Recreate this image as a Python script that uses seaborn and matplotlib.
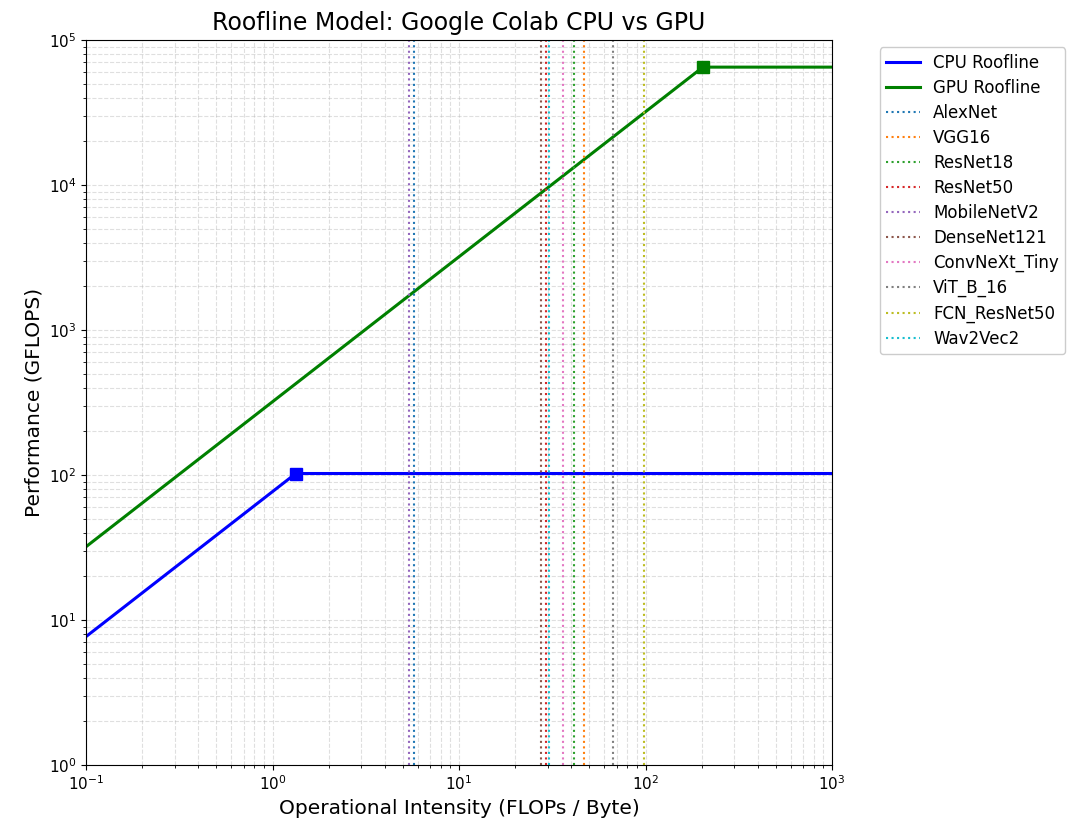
import numpy as np
import matplotlib
matplotlib.use("Agg")
import matplotlib.pyplot as plt
import seaborn as sns

# Hardware parameters
cpu_peak = 102.4      # GFLOPS
cpu_bw = 76.8         # GB/s
gpu_peak = 65000.0    # GFLOPS
gpu_bw = 320.0        # GB/s

# Model operational intensities (FLOPs / Byte)
models = ["AlexNet", "VGG16", "ResNet18", "ResNet50", "MobileNetV2",
          "DenseNet121", "ConvNeXt_Tiny", "ViT_B_16", "FCN_ResNet50", "Wav2Vec2"]
intensities = [5.75, 46.8, 41.5, 29.3, 5.4, 27.4, 36.3, 67.2, 98.0, 30.5]

plt.rcParams.update(plt.rcParamsDefault)
fig = plt.figure(figsize=(10.67, 8.32), dpi=100)
ax = fig.add_axes([86/1067, 1 - 765/832, (832-86)/1067, (765-40)/832])

x_min, x_max = 0.1, 1000.0

def roof(peak, bw):
    knee = peak / bw
    xs = [x_min, knee, x_max]
    ys = [min(peak, bw * v) for v in xs]
    return xs, ys, knee

cx, cy, cknee = roof(cpu_peak, cpu_bw)
gx, gy, gknee = roof(gpu_peak, gpu_bw)

sns.lineplot(x=cx, y=cy, ax=ax, color="blue", linewidth=2.2, label="CPU Roofline", sort=False)
sns.lineplot(x=gx, y=gy, ax=ax, color="green", linewidth=2.2, label="GPU Roofline", sort=False)
ax.plot([cknee], [cpu_peak], marker="s", color="blue", markersize=8)
ax.plot([gknee], [gpu_peak], marker="s", color="green", markersize=8)

palette = sns.color_palette("tab10", len(models))
for name, oi, c in zip(models, intensities, palette):
    ax.axvline(oi, linestyle=":", color=c, linewidth=1.5, label=name)

ax.set_xscale("log")
ax.set_yscale("log")
ax.set_xlim(x_min, x_max)
ax.set_ylim(1, 1e5)
ax.grid(True, which="both", linestyle="--", alpha=0.4)
ax.set_title("Roofline Model: Google Colab CPU vs GPU", fontsize=17, pad=7)
ax.set_xlabel("Operational Intensity (FLOPs / Byte)", fontsize=14.5)
ax.set_ylabel("Performance (GFLOPS)", fontsize=14.5)
ax.tick_params(labelsize=11)
ax.legend(loc="upper left", bbox_to_anchor=(1.064, 0.99), borderaxespad=0,
          fontsize=12, labelspacing=0.42, framealpha=1)

fig.savefig("out.png", dpi=100)
